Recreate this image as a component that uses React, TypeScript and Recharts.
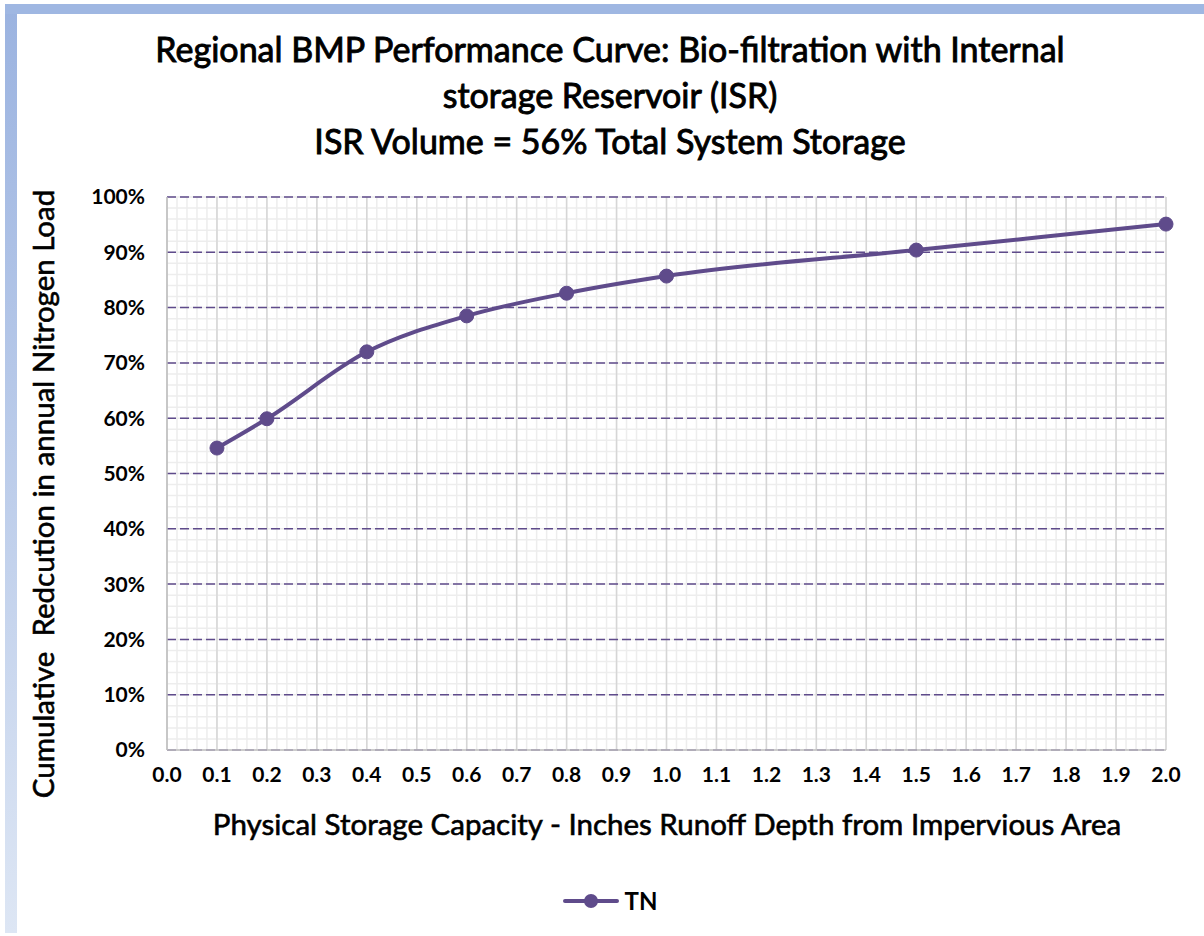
import React from "react";
import { LineChart, Line, XAxis, YAxis, CartesianGrid } from "recharts";

const xValues = [0.1, 0.2, 0.4, 0.6, 0.8, 1.0, 1.5, 2.0];
const tnValues = [54.6, 59.9, 72.0, 78.5, 82.6, 85.7, 90.4, 95.1];
const xTicks = [0, 0.1, 0.2, 0.3, 0.4, 0.5, 0.6, 0.7, 0.8, 0.9, 1.0, 1.1, 1.2, 1.3, 1.4, 1.5, 1.6, 1.7, 1.8, 1.9, 2.0];
const yTicks = [0, 10, 20, 30, 40, 50, 60, 70, 80, 90, 100];
const minorXCount = 100; // minor gridlines every 0.02
const minorYCount = 50; // minor gridlines every 2%

const titleLines = [
  "Regional BMP Performance Curve: Bio-filtration with Internal",
  "storage Reservoir (ISR)",
  "ISR Volume = 56% Total System Storage",
];
const xLabel = "Physical Storage Capacity - Inches Runoff Depth from Impervious Area";
const yLabel = "Cumulative  Redcution in annual Nitrogen Load";
const seriesName = "TN";

const data = xValues.map((x, i) => ({ x, tn: tnValues[i] }));

const PURPLE = "#5f4b8b";
const FONT = "Lato, 'Open Sans', sans-serif";

const minorVertical = ({ offset }: any) =>
  Array.from({ length: minorXCount + 1 }, (_, i) => offset.left + (i * offset.width) / minorXCount);
const minorHorizontal = ({ offset }: any) =>
  Array.from({ length: minorYCount + 1 }, (_, i) => offset.top + (i * offset.height) / minorYCount);

export default function App() {
  return (
    <div style={{ position: "absolute", left: 0, top: 0, width: 1204, height: 936, background: "#fff", overflow: "hidden" }}>
      <div style={{ position: "absolute", left: 5, top: 4, width: 12, height: 929, background: "linear-gradient(#9bb3e0, #dde6f4)" }} />
      <div style={{ position: "absolute", left: 5, top: 4, width: 1199, height: 10, background: "#9fb7e2" }} />
      <div style={{ position: "absolute", left: 0, top: 26, width: 1220, textAlign: "center", fontFamily: FONT, fontSize: 34, lineHeight: "46px", color: "#000", WebkitTextStroke: "0.9px #000" }}>
        {titleLines.map((t, i) => (
          <div key={i}>{t}</div>
        ))}
      </div>
      <div style={{ position: "absolute", left: 667, top: 806, transform: "translateX(-50%)", whiteSpace: "nowrap", fontFamily: FONT, fontSize: 29.5, color: "#000", WebkitTextStroke: "0.6px #000" }}>
        {xLabel}
      </div>
      <div style={{ position: "absolute", left: 42, top: 494, transform: "translate(-50%, -50%) rotate(-90deg)", whiteSpace: "pre", fontFamily: FONT, fontSize: 29.5, color: "#000", WebkitTextStroke: "0.6px #000" }}>
        {yLabel}
      </div>
      <div style={{ position: "absolute", left: 0, top: 886, width: 1204, display: "flex", justifyContent: "center", alignItems: "center", fontFamily: FONT, paddingLeft: 8 }}>
        <svg width={56} height={20}>
          <line x1={2} y1={10} x2={54} y2={10} stroke={PURPLE} strokeWidth={4} strokeLinecap="round" />
          <circle cx={28} cy={10} r={7} fill={PURPLE} />
        </svg>
        <span style={{ fontSize: 24, fontWeight: 700, marginLeft: 6, color: "#000" }}>{seriesName}</span>
      </div>
      <div style={{ position: "absolute", left: 0, top: 0 }}>
        <LineChart width={1204} height={936} data={data} margin={{ top: 197, right: 38, bottom: 126, left: 0 }}>
          <CartesianGrid
            stroke="#ededed"
            strokeWidth={1.5}
            verticalCoordinatesGenerator={minorVertical}
            horizontalCoordinatesGenerator={minorHorizontal}
          />
          <CartesianGrid horizontal={false} stroke="#d6d6d6" strokeWidth={1.5} />
          <CartesianGrid vertical={false} stroke={PURPLE} strokeWidth={1.5} strokeDasharray="9 4" />
          <XAxis
            type="number"
            dataKey="x"
            domain={[0, 2]}
            ticks={xTicks}
            interval={0}
            tickFormatter={(v: number) => v.toFixed(1)}
            tickLine={false}
            tickSize={0}
            tickMargin={17}
            height={60}
            axisLine={{ stroke: "#bfbfbf", strokeWidth: 1.5 }}
            tick={{ fill: "#000", fontSize: 21, fontWeight: 700, fontFamily: FONT }}
          />
          <YAxis
            type="number"
            domain={[0, 100]}
            ticks={yTicks}
            interval={0}
            tickFormatter={(v: number) => `${v}%`}
            tickLine={false}
            tickSize={0}
            tickMargin={22}
            width={167}
            axisLine={{ stroke: "#bfbfbf", strokeWidth: 1.5 }}
            tick={{ fill: "#000", fontSize: 21, fontWeight: 700, fontFamily: FONT }}
          />
          <Line
            type="monotone"
            dataKey="tn"
            name={seriesName}
            stroke={PURPLE}
            strokeWidth={4}
            dot={{ r: 7, fill: PURPLE, stroke: PURPLE, strokeWidth: 1 }}
            activeDot={false}
            isAnimationActive={false}
          />
        </LineChart>
      </div>
    </div>
  );
}
